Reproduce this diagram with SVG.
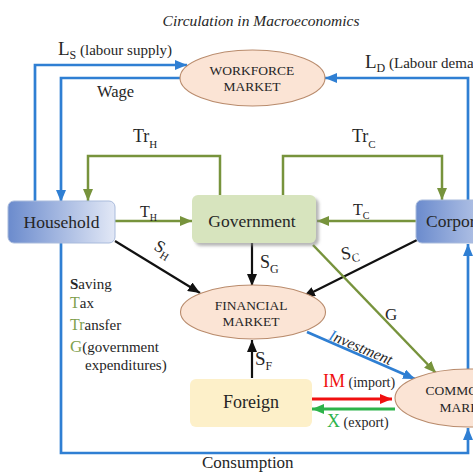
<svg xmlns="http://www.w3.org/2000/svg" width="473" height="472" viewBox="0 0 473 472">
<style>
text{font-family:"Liberation Serif","Times New Roman",serif;fill:#262626}
.blue{stroke:#2f7fd3;stroke-width:2.7;fill:none}
.green{stroke:#77933c;stroke-width:2.5;fill:none}
.black{stroke:#111;stroke-width:2.2;fill:none}
.ell{fill:#fbe4d5;stroke:#b98b6c;stroke-width:1.1}
.node{font-size:17.5px;text-anchor:middle}
.mk{font-size:13.5px;text-anchor:middle}
.gr{fill:#7f9f4f}
</style>
<defs>
<linearGradient id="bg" x1="0" y1="0" x2="1" y2="0">
<stop offset="0" stop-color="#6b8bcd"/>
<stop offset="1" stop-color="#e2e8f6"/>
</linearGradient>
<filter id="sh" x="-10%" y="-10%" width="130%" height="140%">
<feDropShadow dx="3" dy="3" stdDeviation="1.5" flood-color="#888" flood-opacity="0.6"/>
</filter>
<marker id="aB" viewBox="0 0 12 10" refX="12" refY="5" markerWidth="12" markerHeight="10" markerUnits="userSpaceOnUse" orient="auto"><path d="M0,0L12,5L0,10z" fill="#2f7fd3"/></marker>
<marker id="aG" viewBox="0 0 12 10" refX="12" refY="5" markerWidth="12" markerHeight="10" markerUnits="userSpaceOnUse" orient="auto"><path d="M0,0L12,5L0,10z" fill="#77933c"/></marker>
<marker id="aK" viewBox="0 0 12 10" refX="12" refY="5" markerWidth="12" markerHeight="10" markerUnits="userSpaceOnUse" orient="auto"><path d="M0,0L12,5L0,10z" fill="#111"/></marker>
<marker id="aR" viewBox="0 0 12 10" refX="12" refY="5" markerWidth="12" markerHeight="10" markerUnits="userSpaceOnUse" orient="auto"><path d="M0,0L12,5L0,10z" fill="#f01010"/></marker>
<marker id="aX" viewBox="0 0 12 10" refX="12" refY="5" markerWidth="12" markerHeight="10" markerUnits="userSpaceOnUse" orient="auto"><path d="M0,0L12,5L0,10z" fill="#2db34a"/></marker>
</defs>
<rect width="473" height="472" fill="#fff"/>
<text x="261" y="26" font-size="15.5" font-style="italic" text-anchor="middle">Circulation in Macroeconomics</text>

<g id="connectors">
<path class="blue" d="M35,202V65H187" marker-end="url(#aB)"/>
<path class="blue" d="M180,78H61V202" marker-end="url(#aB)"/>
<path class="blue" d="M468,200V78H325" marker-end="url(#aB)"/>
<path class="green" d="M220,195V156H88V201" marker-end="url(#aG)"/>
<path class="green" d="M283,195V156H442V200" marker-end="url(#aG)"/>
<path class="green" d="M115,221H192" marker-end="url(#aG)"/>
<path class="green" d="M416,221H317" marker-end="url(#aG)"/>
<path class="black" d="M115,241L200,293" marker-end="url(#aK)"/>
<path class="black" d="M252,243V286" marker-end="url(#aK)"/>
<path class="black" d="M417,240L303,297" marker-end="url(#aK)"/>
<path class="green" d="M313,245L436,373" marker-end="url(#aG)"/>
<path class="blue" d="M307,332L415,379" marker-end="url(#aB)"/>
<path class="black" d="M252,378V340" marker-end="url(#aK)"/>
<path d="M312,399H392" stroke="#f01010" stroke-width="3" fill="none" marker-end="url(#aR)"/>
<path d="M395,409H312" stroke="#2db34a" stroke-width="3" fill="none" marker-end="url(#aX)"/>
<path class="blue" d="M61,243V453H468V428" marker-end="url(#aB)"/>
<path class="blue" d="M468,369V244" marker-end="url(#aB)"/>
</g>

<g id="labels">
<text x="58" y="55" font-size="19">L<tspan font-size="12" dy="4">S</tspan><tspan font-size="15" dy="-4"> (labour supply)</tspan></text>
<text x="365" y="68" font-size="19">L<tspan font-size="12" dy="4">D</tspan><tspan font-size="15" dy="-4"> (Labour demand)</tspan></text>
<text x="97" y="97" font-size="16.5">Wage</text>
<text x="133" y="142" font-size="18">Tr<tspan font-size="11" dy="6">H</tspan></text>
<text x="352" y="142" font-size="18">Tr<tspan font-size="11" dy="6">C</tspan></text>
<text x="140" y="217" font-size="16">T<tspan font-size="10" dy="4">H</tspan></text>
<text x="353" y="215" font-size="16">T<tspan font-size="10" dy="4">C</tspan></text>
<text x="153" y="249" font-size="17" transform="rotate(31 153 249)">S<tspan font-size="11" dy="4">H</tspan></text>
<text x="260" y="268" font-size="18">S<tspan font-size="12" dy="5">G</tspan></text>
<text x="342" y="260" font-size="18" transform="rotate(-10 342 260)">S<tspan font-size="12" dy="4">C</tspan></text>
<text x="385" y="320" font-size="17">G</text>
<text x="328" y="339" font-size="15.5" font-style="italic" transform="rotate(23 328 339)"><tspan fill="#2f7fd3">I</tspan>nvestment</text>
<text x="255" y="365" font-size="19">S<tspan font-size="12" dy="5">F</tspan></text>
<text x="323" y="387" font-size="18"><tspan fill="#f01010">IM</tspan><tspan font-size="14"> (import)</tspan></text>
<text x="327" y="427" font-size="18"><tspan fill="#2db34a">X</tspan><tspan font-size="14"> (export)</tspan></text>
<text x="202" y="468" font-size="17">Consumption</text>
</g>

<g id="legend">
<text x="70" y="289" font-size="15"><tspan font-weight="bold">S</tspan>aving</text>
<text x="70" y="308" font-size="15"><tspan class="gr" font-size="16">T</tspan>ax</text>
<text x="70" y="330" font-size="15"><tspan class="gr" font-size="16">Tr</tspan>ansfer</text>
<text x="70" y="352" font-size="15"><tspan class="gr" font-size="17">G</tspan>(government</text>
<text x="85" y="370" font-size="15">expenditures)</text>
</g>

<g id="workforce-market">
<ellipse class="ell" cx="252.5" cy="78" rx="72.5" ry="28"/>
<text class="mk" x="252" y="75">WORKFORCE</text>
<text class="mk" x="252" y="91">MARKET</text>
</g>
<g id="household">
<rect x="8" y="201" width="107" height="42" rx="6" fill="url(#bg)" stroke="#a9bbdc" stroke-width="1"/>
<text class="node" x="61.5" y="228">Household</text>
</g>
<g id="government">
<rect x="192" y="195" width="124" height="48" rx="6" fill="#d7e4be" filter="url(#sh)"/>
<text class="node" x="252" y="227" font-size="18">Government</text>
</g>
<g id="corporation">
<rect x="416" y="200" width="107" height="43" rx="6" fill="url(#bg)" stroke="#a9bbdc" stroke-width="1"/>
<text x="426" y="227" font-size="17.5">Corporation</text>
</g>
<g id="financial-market">
<ellipse class="ell" cx="253" cy="312" rx="72.5" ry="27"/>
<text class="mk" x="251" y="310" font-size="14">FINANCIAL</text>
<text class="mk" x="251" y="326" font-size="14">MARKET</text>
</g>
<g id="foreign">
<rect x="190" y="379" width="122" height="48" rx="6" fill="#fdf0c9"/>
<text x="223" y="408" font-size="18">Foreign</text>
</g>
<g id="commodity-market">
<ellipse class="ell" cx="468" cy="398" rx="73" ry="29"/>
<text class="mk" x="468" y="395">COMMODITY</text>
<text class="mk" x="468" y="412">MARKET</text>
</g>
</svg>
